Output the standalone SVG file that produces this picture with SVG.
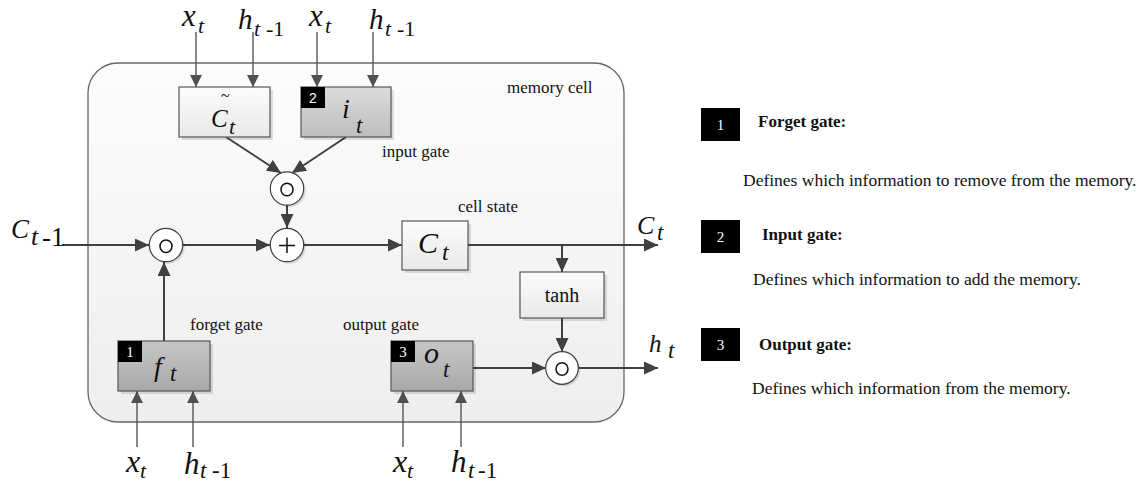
<svg xmlns="http://www.w3.org/2000/svg" width="1141" height="483" viewBox="0 0 1141 483">
<style>
text{font-family:"Liberation Serif","Times New Roman",serif;fill:#111}
.m{font-style:italic}
.lbl{font-size:17px}
.desc{font-size:17.5px}
.hd{font-size:17px;font-weight:bold}
.bw{fill:#fff;font-size:15px;text-anchor:middle}
.conn{stroke:#404040;stroke-width:2;fill:none}
.inp{stroke:#555;stroke-width:1.4;fill:none}
.box{stroke:#555;stroke-width:1.2}
.shd{fill:#000;opacity:0.12}
.circ{fill:#fff;stroke:#404040;stroke-width:1.2}
.sym{fill:none;stroke:#111;stroke-width:1.5}
</style>
<defs>
<linearGradient id="cellG" x1="0" y1="0" x2="0" y2="1"><stop offset="0" stop-color="#fcfcfc"/><stop offset="1" stop-color="#eeeeee"/></linearGradient>
<linearGradient id="lightG" x1="0" y1="0" x2="0" y2="1"><stop offset="0" stop-color="#fbfbfb"/><stop offset="1" stop-color="#e9e9e9"/></linearGradient>
<linearGradient id="grayG" x1="0" y1="0" x2="0" y2="1"><stop offset="0" stop-color="#dcdcdc"/><stop offset="1" stop-color="#bdbdbd"/></linearGradient>
<linearGradient id="darkG" x1="0" y1="0" x2="0" y2="1"><stop offset="0" stop-color="#c6c6c6"/><stop offset="1" stop-color="#a9a9a9"/></linearGradient>
<marker id="ah" markerUnits="userSpaceOnUse" markerWidth="14" markerHeight="13" refX="14" refY="6.5" orient="auto"><path d="M0,0 L14,6.5 L0,13 z" fill="#404040"/></marker>
<marker id="ahs" markerUnits="userSpaceOnUse" markerWidth="12" markerHeight="12" refX="12" refY="6" orient="auto"><path d="M0,0 L12,6 L0,12 z" fill="#505050"/></marker>
</defs>

<g id="memory-cell">
<rect x="88" y="63" width="536" height="359" rx="30" fill="url(#cellG)" stroke="#666" stroke-width="1.3"/>
<text class="lbl" x="507" y="93">memory cell</text>
<text class="lbl" x="382" y="157">input gate</text>
<text class="lbl" x="458" y="212">cell state</text>
<text class="lbl" x="190" y="330">forget gate</text>
<text class="lbl" x="343" y="330">output gate</text>
</g>

<g id="connectors">
<line class="inp" x1="196" y1="32" x2="196" y2="87" marker-end="url(#ahs)"/>
<line class="inp" x1="253" y1="32" x2="253" y2="87" marker-end="url(#ahs)"/>
<line class="inp" x1="317" y1="32" x2="317" y2="87" marker-end="url(#ahs)"/>
<line class="inp" x1="373" y1="32" x2="373" y2="87" marker-end="url(#ahs)"/>
<line class="conn" x1="226" y1="137" x2="281" y2="173" marker-end="url(#ah)"/>
<line class="conn" x1="346" y1="137" x2="292" y2="173" marker-end="url(#ah)"/>
<line class="conn" x1="287" y1="205" x2="287" y2="228" marker-end="url(#ah)"/>
<line class="conn" x1="62" y1="245" x2="149" y2="245" marker-end="url(#ah)"/>
<line class="conn" x1="183" y1="245" x2="270" y2="245" marker-end="url(#ah)"/>
<line class="conn" x1="304" y1="245" x2="402" y2="245" marker-end="url(#ah)"/>
<line class="conn" x1="468" y1="245" x2="658" y2="245" marker-end="url(#ah)"/>
<line class="conn" x1="562" y1="245" x2="562" y2="272" marker-end="url(#ah)"/>
<line class="conn" x1="562" y1="318" x2="562" y2="352" marker-end="url(#ah)"/>
<line class="conn" x1="473" y1="368" x2="546" y2="368" marker-end="url(#ah)"/>
<line class="conn" x1="578" y1="368" x2="658" y2="368" marker-end="url(#ah)"/>
<line class="conn" x1="164" y1="341" x2="164" y2="262" marker-end="url(#ah)"/>
<line class="inp" x1="137" y1="447" x2="137" y2="391" marker-end="url(#ahs)"/>
<line class="inp" x1="193" y1="447" x2="193" y2="391" marker-end="url(#ahs)"/>
<line class="inp" x1="403" y1="447" x2="403" y2="391" marker-end="url(#ahs)"/>
<line class="inp" x1="461" y1="447" x2="461" y2="391" marker-end="url(#ahs)"/>
</g>

<g id="candidate">
<rect class="shd" x="182" y="90" width="91" height="50"/>
<rect class="box" x="179" y="87" width="91" height="50" fill="url(#lightG)"/>
<text class="m" x="225" y="101" font-size="16" text-anchor="middle">~</text>
<text class="m" x="211" y="127" font-size="25">C</text>
<text class="m" x="229" y="134" font-size="22">t</text>
</g>

<g id="input-gate">
<rect class="shd" x="304" y="90" width="90" height="50"/>
<rect class="box" x="301" y="87" width="90" height="50" fill="url(#grayG)"/>
<rect x="301" y="87" width="24" height="21" fill="#000"/>
<text x="313" y="103" class="bw" style="font-family:'Liberation Sans',Arial,sans-serif;font-size:14px">2</text>
<text class="m" x="342" y="118" font-size="28">i</text>
<text class="m" x="356" y="133" font-size="23">t</text>
</g>

<g id="cell-state">
<rect class="shd" x="405" y="224" width="66" height="49"/>
<rect class="box" x="402" y="221" width="66" height="49" fill="url(#lightG)"/>
<text class="m" x="418" y="253" font-size="30">C</text>
<text class="m" x="442" y="260" font-size="24">t</text>
</g>

<g id="tanh">
<rect class="shd" x="523" y="275" width="84" height="46"/>
<rect class="box" x="520" y="272" width="84" height="46" fill="url(#lightG)"/>
<text x="562" y="302" font-size="20" text-anchor="middle">tanh</text>
</g>

<g id="forget-gate">
<rect class="shd" x="121" y="344" width="92" height="50"/>
<rect class="box" x="118" y="341" width="92" height="50" fill="url(#darkG)"/>
<rect x="118" y="341" width="24" height="21" fill="#000"/>
<text x="130" y="357" class="bw">1</text>
<text class="m" x="154" y="376" font-size="28">f</text>
<text class="m" x="170" y="381" font-size="23">t</text>
</g>

<g id="output-gate">
<rect class="shd" x="394" y="344" width="82" height="50"/>
<rect class="box" x="391" y="341" width="82" height="50" fill="url(#darkG)"/>
<rect x="391" y="341" width="24" height="21" fill="#000"/>
<text x="403" y="357" class="bw">3</text>
<text class="m" x="424" y="363" font-size="30">o</text>
<text class="m" x="443" y="377" font-size="23">t</text>
</g>

<g id="mult-input">
<circle class="shd" cx="289" cy="190.5" r="16.7"/>
<circle class="circ" cx="287" cy="188.5" r="16.7"/>
<ellipse class="sym" cx="287" cy="189.5" rx="6" ry="6.3"/>
</g>
<g id="add">
<circle class="shd" cx="289" cy="247" r="16.7"/>
<circle class="circ" cx="287" cy="245" r="16.7"/>
<path class="sym" d="M279,245.5 H295 M287,237.5 V253"/>
</g>
<g id="mult-forget">
<circle class="shd" cx="168" cy="247" r="16.7"/>
<circle class="circ" cx="166" cy="245" r="16.7"/>
<ellipse class="sym" cx="166" cy="246.3" rx="6" ry="6.3"/>
</g>
<g id="mult-output">
<circle class="shd" cx="564" cy="370" r="16.3"/>
<circle class="circ" cx="562" cy="368" r="16.3"/>
<ellipse class="sym" cx="562" cy="369" rx="6" ry="6.3"/>
</g>

<g id="io-labels">
<text class="m" x="182" y="26" font-size="31">x</text><text class="m" x="198" y="33" font-size="22">t</text>
<text class="m" x="238" y="29" font-size="29">h</text><text class="m" x="254" y="36" font-size="22">t</text><text x="266" y="36" font-size="22">-1</text>
<text class="m" x="309" y="26" font-size="31">x</text><text class="m" x="325" y="33" font-size="22">t</text>
<text class="m" x="369" y="29" font-size="29">h</text><text class="m" x="385" y="36" font-size="22">t</text><text x="397" y="36" font-size="22">-1</text>
<text class="m" x="11" y="238" font-size="27">C</text><text class="m" x="31" y="245" font-size="26">t</text><text x="42" y="246" font-size="27">-1</text>
<text class="m" x="637" y="234" font-size="26">C</text><text class="m" x="657" y="240" font-size="23">t</text>
<text class="m" x="649" y="352" font-size="25">h</text><text class="m" x="668" y="358" font-size="23">t</text>
<text class="m" x="126" y="472" font-size="32">x</text><text class="m" x="140" y="478" font-size="22">t</text>
<text class="m" x="184" y="474" font-size="31">h</text><text class="m" x="200" y="478" font-size="23">t</text><text x="212" y="478" font-size="23">-1</text>
<text class="m" x="393" y="472" font-size="32">x</text><text class="m" x="407" y="478" font-size="22">t</text>
<text class="m" x="451" y="472" font-size="31">h</text><text class="m" x="468" y="478" font-size="23">t</text><text x="478" y="478" font-size="23">-1</text>
</g>

<g id="legend-1">
<rect x="701" y="108" width="39" height="33" fill="#000"/>
<text class="bw" x="720.5" y="130">1</text>
<text class="hd" x="758" y="127">Forget gate:</text>
<text class="desc" x="743" y="186">Defines which information to remove from the memory.</text>
</g>
<g id="legend-2">
<rect x="701" y="220" width="39" height="33" fill="#000"/>
<text class="bw" x="720.5" y="242">2</text>
<text class="hd" x="762" y="240">Input gate:</text>
<text class="desc" x="753" y="285">Defines which information to add the memory.</text>
</g>
<g id="legend-3">
<rect x="701" y="328" width="39" height="33" fill="#000"/>
<text class="bw" x="720.5" y="350">3</text>
<text class="hd" x="759" y="350">Output gate:</text>
<text class="desc" x="752" y="394">Defines which information from the memory.</text>
</g>
</svg>
